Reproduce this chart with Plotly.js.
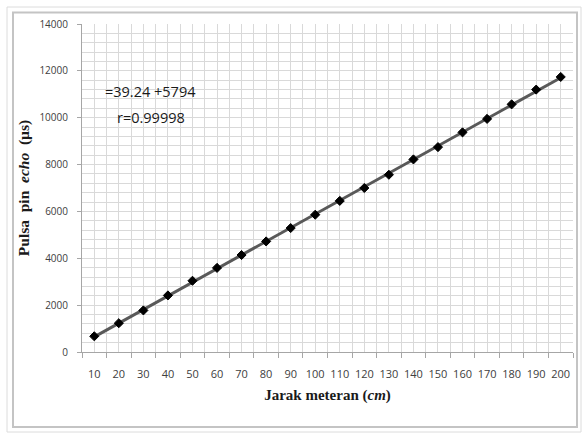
<!DOCTYPE html>
<html>
<head>
<meta charset="utf-8">
<script src="https://cdn.plot.ly/plotly-3.0.1.min.js"></script>
<style>
  html, body { margin: 0; padding: 0; background: #ffffff; }
  #chart { width: 582px; height: 435px; }
</style>
</head>
<body>
<div id="chart"></div>
<script>
// Data
const distances = [10, 20, 30, 40, 50, 60, 70, 80, 90, 100, 110, 120, 130, 140, 150, 160, 170, 180, 190, 200];
const pulses = [670, 1230, 1775, 2415, 3040, 3590, 4140, 4720, 5290, 5860, 6450, 7000, 7565, 8220, 8745, 9375, 9950, 10570, 11200, 11740];
const equationText = "=39.24 +5794";
const rText = "r=0.99998";

// Linear trendline (least squares) computed from the data
const n = distances.length;
const mx = distances.reduce((a, b) => a + b, 0) / n;
const my = pulses.reduce((a, b) => a + b, 0) / n;
let sxy = 0, sxx = 0;
for (let i = 0; i < n; i++) {
  sxy += (distances[i] - mx) * (pulses[i] - my);
  sxx += (distances[i] - mx) * (distances[i] - mx);
}
const slope = sxy / sxx;
const intercept = my - slope * mx;
const trendX = [distances[0], distances[n - 1]];
const trendY = trendX.map(x => slope * x + intercept);

const W = 582, H = 435;
const M = { l: 82, r: 9, t: 24, b: 83 };
const pw = W - M.l - M.r, ph = H - M.t - M.b;
const px = x => (x - M.l) / pw;
const py = y => (H - M.b - y) / ph;

const gridColor = "#d9d9d9";

const traces = [
  {
    x: trendX, y: trendY, type: "scatter", mode: "lines",
    line: { color: "#595959", width: 3 },
    hoverinfo: "skip", showlegend: false
  },
  {
    x: distances, y: pulses, type: "scatter", mode: "markers",
    marker: { symbol: "diamond", size: 7, color: "#000000", line: { color: "#000000", width: 1 } },
    showlegend: false
  }
];

const layout = {
  width: W, height: H,
  margin: M,
  paper_bgcolor: "#ffffff",
  plot_bgcolor: "#ffffff",
  showlegend: false,
  xaxis: {
    type: "linear",
    range: [5, 205],
    tick0: 10, dtick: 10,
    showgrid: true, gridcolor: gridColor, gridwidth: 1,
    ticks: "",
    minor: { tick0: 5, dtick: 10, showgrid: true, gridcolor: gridColor, gridwidth: 1, ticks: "outside", ticklen: 5, tickcolor: "#a6a6a6" },
    showline: true, linecolor: "#a6a6a6", linewidth: 1,
    zeroline: false,
    tickfont: { family: "Open Sans, sans-serif", size: 11, color: "#404040" },
    ticklabelstandoff: 12,
    title: {
      text: "<b>Jarak meteran (<i>cm</i>)</b>",
      font: { family: "Liberation Serif, Times New Roman, serif", size: 15, color: "#1a1a1a" },
      standoff: 9
    },
    automargin: false,
    fixedrange: true
  },
  yaxis: {
    range: [0, 14000],
    tick0: 0, dtick: 2000,
    tickformat: "d",
    showgrid: true, gridcolor: gridColor, gridwidth: 1,
    ticks: "outside", ticklen: 4, tickcolor: "#a6a6a6",
    minor: { dtick: 400, showgrid: true, gridcolor: gridColor, gridwidth: 1 },
    showline: true, linecolor: "#a6a6a6", linewidth: 1,
    zeroline: false,
    tickfont: { family: "Open Sans, sans-serif", size: 10, color: "#404040" },
    ticklabelstandoff: 7,
    title: {
      text: "<b>Pulsa\u00a0\u00a0pin\u00a0\u00a0<i>echo</i>\u00a0\u00a0(µs)</b>",
      font: { family: "Liberation Serif, Times New Roman, serif", size: 15.5, color: "#1a1a1a" },
      standoff: 5
    },
    automargin: false,
    fixedrange: true
  },
  annotations: [
    {
      xref: "paper", yref: "paper", x: px(150.5), y: py(92), xanchor: "center", yanchor: "middle",
      text: equationText, showarrow: false,
      font: { family: "Open Sans, sans-serif", size: 14.5, color: "#1a1a1a" }
    },
    {
      xref: "paper", yref: "paper", x: px(150.5), y: py(117), xanchor: "center", yanchor: "middle",
      text: rText, showarrow: false,
      font: { family: "Open Sans, sans-serif", size: 14.5, color: "#1a1a1a" }
    }
  ],
  shapes: [
    { type: "rect", xref: "paper", yref: "paper", x0: px(7), x1: px(581), y0: py(7), y1: py(432),
      line: { color: "#dcdcdc", width: 1 }, fillcolor: "rgba(0,0,0,0)", layer: "below" },
    { type: "rect", xref: "paper", yref: "paper", x0: px(13), x1: px(577), y0: py(12.5), y1: py(427),
      line: { color: "#c4c4c4", width: 2 }, fillcolor: "rgba(0,0,0,0)", layer: "below" }
  ]
};

Plotly.newPlot("chart", traces, layout, { displayModeBar: false, staticPlot: true });
</script>
</body>
</html>
